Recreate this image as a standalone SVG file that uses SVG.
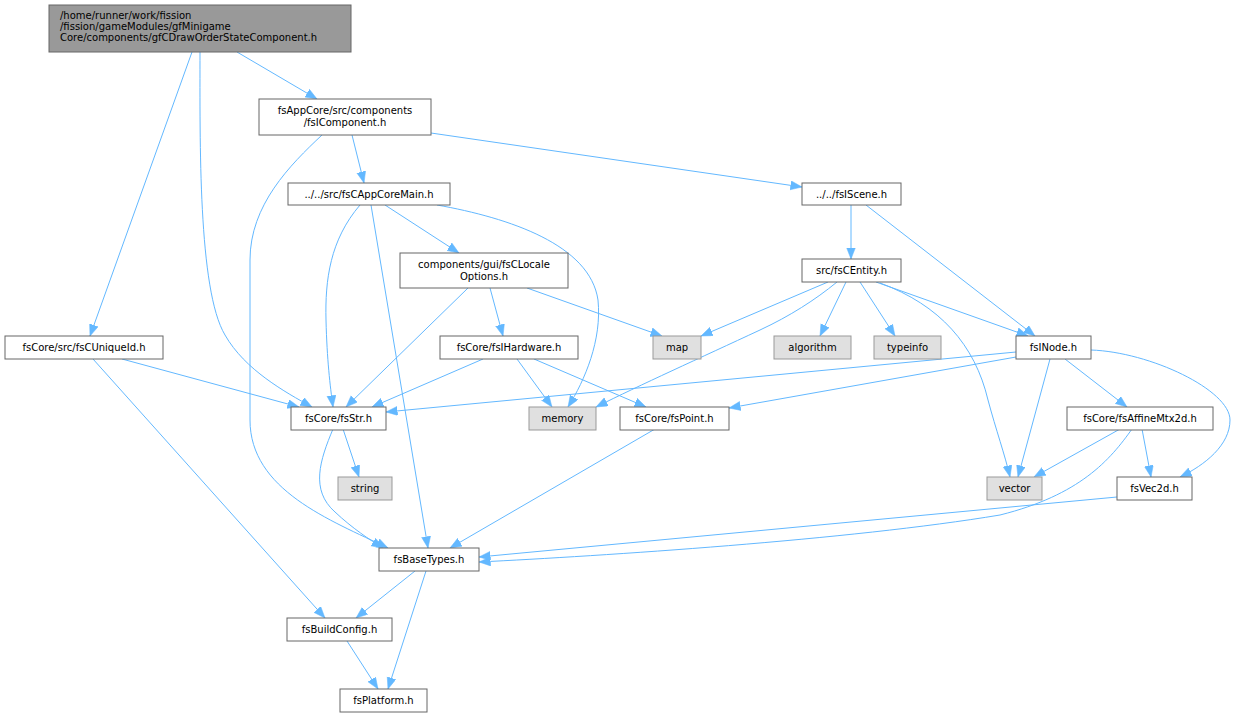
<svg xmlns="http://www.w3.org/2000/svg" width="1236" height="717" viewBox="0 0 1236 717">
<defs>
<style>
.n rect{fill:#ffffff;stroke:#666666;stroke-width:1}
.x rect{fill:#e0e0e0;stroke:#999999;stroke-width:1}
.r rect{fill:#999999;stroke:#666666;stroke-width:1}
text{font-family:"DejaVu Sans","Liberation Sans",sans-serif;font-size:10px;fill:#000000;text-anchor:middle}
.r text{text-anchor:start}
#edges path{fill:none;stroke:#63b8ff;stroke-width:1;marker-end:url(#ah)}
</style>
<marker id="ah" markerUnits="userSpaceOnUse" markerWidth="13" markerHeight="10" refX="11.5" refY="4.5" orient="auto">
<path d="M0,0 L11.5,4.5 L0,9 Z" fill="#63b8ff" stroke="#63b8ff" stroke-width="0.5"/>
</marker>
</defs>
<rect width="1236" height="717" fill="#ffffff"/>
<g id="edges">
<path d="M237,52 L317,99"/>
<path d="M192,52 L90,336"/>
<path d="M200,52 C200,140 198,290 225,335 C245,370 285,392 312,407"/>
<path d="M322,135 C290,165 250,205 250,260 L250,420 C250,490 330,520 388,548"/>
<path d="M352,135 L364,183"/>
<path d="M431,133 L802,187"/>
<path d="M360,205 C330,240 325,280 326,320 C327,360 330,385 333,407"/>
<path d="M371,205 L428,548"/>
<path d="M385,205 L459,253"/>
<path d="M437,205 C510,218 590,245 598,300 C602,340 585,380 568,407"/>
<path d="M468,288 L346,407"/>
<path d="M490,288 L503,336"/>
<path d="M527,288 L662,336"/>
<path d="M483,359 L372,407"/>
<path d="M517,359 L552,407"/>
<path d="M534,359 L646,407"/>
<path d="M851,205 L851,259"/>
<path d="M866,205 L1035,336"/>
<path d="M828,282 L701,336"/>
<path d="M837,282 C815,300 790,316 760,330 C700,358 640,385 596,407"/>
<path d="M846,282 L820,336"/>
<path d="M860,282 L895,336"/>
<path d="M876,282 L1028,336"/>
<path d="M880,283 C940,305 975,345 988,400 C996,430 1005,455 1010,477"/>
<path d="M1016,352 L386,412"/>
<path d="M1016,357 L729,408"/>
<path d="M1050,359 L1018,477"/>
<path d="M1065,359 L1127,407"/>
<path d="M1091,350 C1150,352 1230,390 1230,420 C1230,445 1205,465 1180,477"/>
<path d="M1120,429 L1034,477"/>
<path d="M1142,429 L1151,477"/>
<path d="M1132,429 C1110,460 1080,495 1000,515 C850,540 600,556 479,562"/>
<path d="M1117,497 L479,557"/>
<path d="M655,429 L450,548"/>
<path d="M333,429 C320,460 310,490 335,512 C352,528 370,540 383,548"/>
<path d="M343,429 L359,477"/>
<path d="M122,359 L299,407"/>
<path d="M93,359 L325,618"/>
<path d="M415,571 L356,618"/>
<path d="M426,571 L388,689"/>
<path d="M347,641 L378,689"/>
</g>
<g id="root" class="r"><rect x="49" y="5" width="302" height="47"/><text x="60" y="19.2">/home/runner/work/fission</text><text x="60" y="30">/fission/gameModules/gfMinigame</text><text x="60" y="40.8">Core/components/gfCDrawOrderStateComponent.h</text></g>
<g id="fsIComponent" class="n"><rect x="259" y="99" width="172" height="36"/><text x="345" y="113.5">fsAppCore/src/components</text><text x="345" y="125.5">/fsIComponent.h</text></g>
<g id="fsCAppCoreMain" class="n"><rect x="288" y="183" width="162" height="22"/><text x="369" y="197.5">../../src/fsCAppCoreMain.h</text></g>
<g id="fsCLocaleOptions" class="n"><rect x="400" y="253" width="168" height="35"/><text x="484" y="267.5">components/gui/fsCLocale</text><text x="484" y="279.5">Options.h</text></g>
<g id="fsIScene" class="n"><rect x="802" y="183" width="99" height="22"/><text x="851.5" y="197.5">../../fsIScene.h</text></g>
<g id="fsCEntity" class="n"><rect x="802" y="259" width="99" height="23"/><text x="851.5" y="274">src/fsCEntity.h</text></g>
<g id="fsCUniqueId" class="n"><rect x="5" y="336" width="158" height="23"/><text x="84" y="351">fsCore/src/fsCUniqueId.h</text></g>
<g id="fsIHardware" class="n"><rect x="440" y="336" width="138" height="23"/><text x="509" y="351">fsCore/fsIHardware.h</text></g>
<g id="map" class="x"><rect x="653" y="336" width="48" height="23"/><text x="677" y="351">map</text></g>
<g id="algorithm" class="x"><rect x="774" y="336" width="77" height="23"/><text x="812.5" y="351">algorithm</text></g>
<g id="typeinfo" class="x"><rect x="874" y="336" width="67" height="23"/><text x="907.5" y="351">typeinfo</text></g>
<g id="fsINode" class="n"><rect x="1016" y="336" width="75" height="23"/><text x="1053.5" y="351">fsINode.h</text></g>
<g id="fsStr" class="n"><rect x="291" y="407" width="95" height="23"/><text x="338.5" y="422">fsCore/fsStr.h</text></g>
<g id="memory" class="x"><rect x="529" y="407" width="67" height="23"/><text x="562.5" y="422">memory</text></g>
<g id="fsPoint" class="n"><rect x="620" y="407" width="109" height="23"/><text x="674.5" y="422">fsCore/fsPoint.h</text></g>
<g id="fsAffineMtx2d" class="n"><rect x="1067" y="407" width="146" height="23"/><text x="1140" y="422">fsCore/fsAffineMtx2d.h</text></g>
<g id="string" class="x"><rect x="338" y="477" width="54" height="23"/><text x="365" y="492">string</text></g>
<g id="vector" class="x"><rect x="987" y="477" width="55" height="23"/><text x="1014.5" y="492">vector</text></g>
<g id="fsVec2d" class="n"><rect x="1117" y="477" width="75" height="23"/><text x="1154.5" y="492">fsVec2d.h</text></g>
<g id="fsBaseTypes" class="n"><rect x="379" y="548" width="100" height="23"/><text x="429" y="563">fsBaseTypes.h</text></g>
<g id="fsBuildConfig" class="n"><rect x="287" y="618" width="105" height="23"/><text x="339.5" y="633">fsBuildConfig.h</text></g>
<g id="fsPlatform" class="n"><rect x="340" y="689" width="87" height="23"/><text x="383.5" y="704">fsPlatform.h</text></g>
</svg>
